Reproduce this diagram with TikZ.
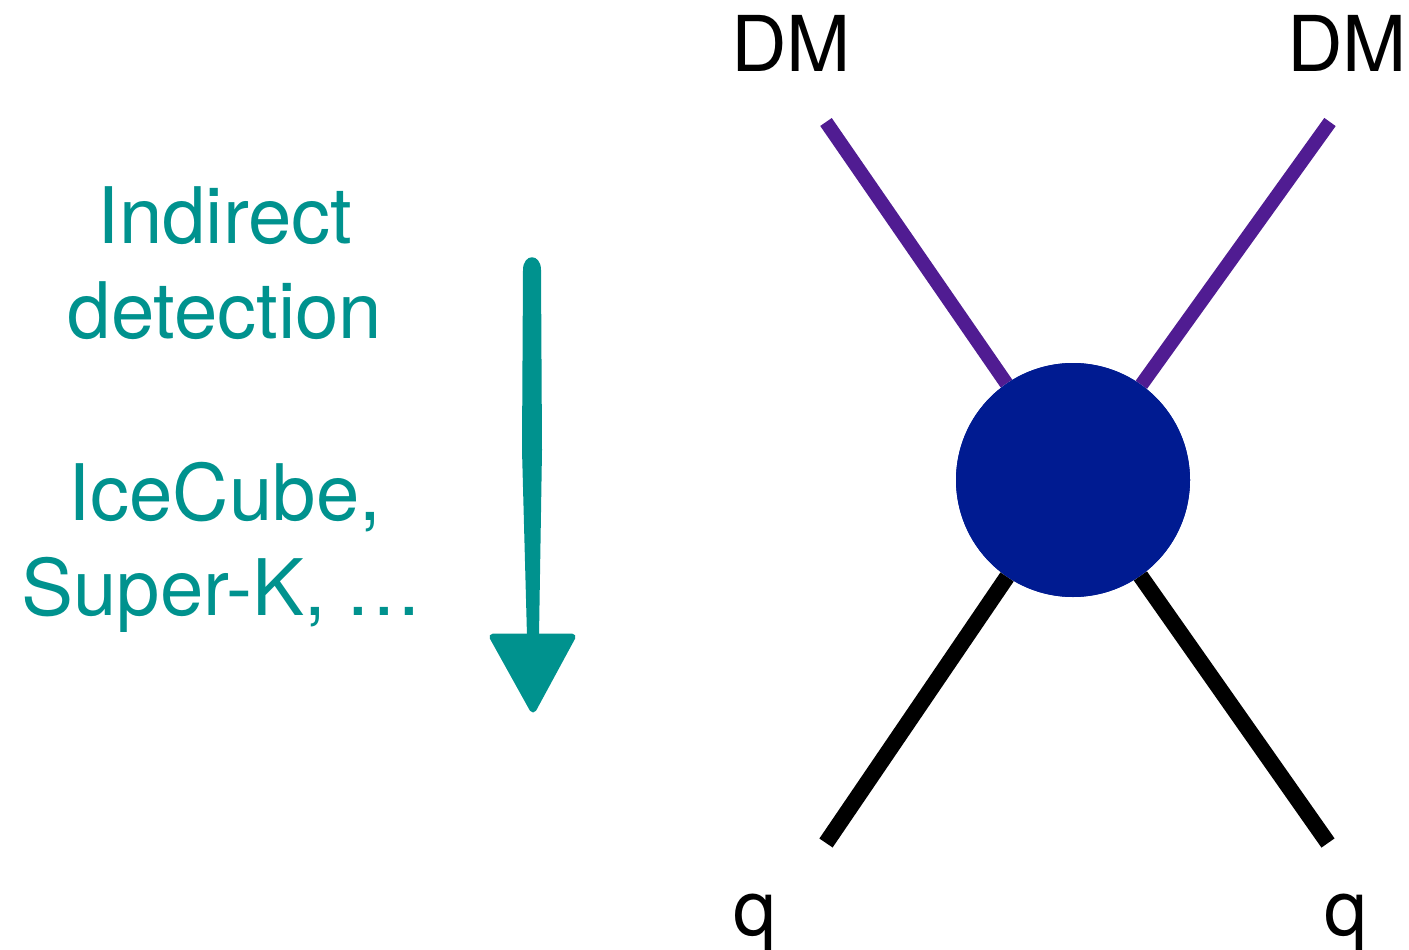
\documentclass[tikz,border=0pt]{standalone}
\usepackage{fontspec}
\setmainfont{TeX Gyre Heros}
\definecolor{tealc}{RGB}{0,146,142}
\definecolor{dmpurple}{RGB}{80,28,146}
\definecolor{blobblue}{RGB}{0,27,145}
\begin{document}
\begin{tikzpicture}[x=1pt,y=-1pt,
  lbl/.style={inner sep=0pt,anchor=base west,font=\fontsize{77}{95}\selectfont},
  tlbl/.style={inner sep=0pt,anchor=base,text=tealc,font=\fontsize{78}{95}\selectfont},
  dmline/.style={draw=dmpurple,line width=14pt,line cap=butt},
  qline/.style={draw=black,line width=16pt,line cap=butt}]
\useasboundingbox (0,0) rectangle (1409,950);
% vertex
\node[circle,fill=blobblue,minimum size=234pt,inner sep=0pt] (blob) at (1073,480) {};
\coordinate (dmL) at (826,122);
\coordinate (dmR) at (1330,122);
\coordinate (qL) at (826,843);
\coordinate (qR) at (1328,843);
\draw[dmline] (dmL) -- (blob);
\draw[dmline] (dmR) -- (blob);
\draw[qline] (qL) -- (blob);
\draw[qline] (qR) -- (blob);
\node[circle,fill=blobblue,minimum size=234pt,inner sep=0pt] at (blob) {};
% labels
\node[lbl] (tdmL) at (731,72) {DM};
\node[lbl] (tdmR) at (1287,72) {DM};
\node[lbl] (tqL) at (733,935) {q};
\node[lbl] (tqR) at (1324,935) {q};
% left text
\node[tlbl] (t1) at (225,243) {Indirect};
\node[tlbl] (t2) at (225,338) {detection};
\node[tlbl] (t3) at (225,520) {IceCube,};
\node[tlbl] (t4) at (221,615) {Super-K,~.\kern4pt.\kern4pt.};
% arrow
\coordinate (atop) at (532,257);
\coordinate (abot) at (532,636);
\coordinate (atip) at (532,713);
\fill[tealc] (523,270) .. controls (523,253) and (541,253) .. (541,270) -- (542,450) -- (539,636) -- (527,636) -- (522,450) -- cycle;
\fill[tealc,draw=tealc,line width=7pt,line join=round] (493,637) -- (572,637) -- (533,709) -- cycle;
\end{tikzpicture}
\end{document}
